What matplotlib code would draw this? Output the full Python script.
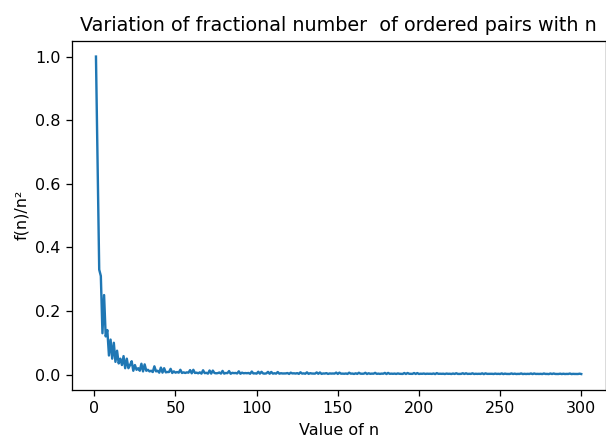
import matplotlib
matplotlib.use("Agg")
import matplotlib.pyplot as plt

# n = 1 .. 300
n_values = list(range(1, 301))

# f(n)/n^2 (n = 1..60)
ratio_1_60 = [
    1.0, 0.66, 0.33, 0.31, 0.13, 0.25, 0.12, 0.14, 0.06, 0.11,
    0.05, 0.10, 0.04, 0.075, 0.035, 0.05, 0.03, 0.058, 0.02, 0.05,
    0.02, 0.03, 0.042, 0.012, 0.03, 0.015, 0.02, 0.012, 0.034, 0.01,
    0.032, 0.012, 0.015, 0.01, 0.012, 0.008, 0.026, 0.01, 0.012, 0.006,
    0.022, 0.006, 0.02, 0.007, 0.008, 0.008, 0.018, 0.005, 0.01, 0.006,
    0.008, 0.006, 0.015, 0.005, 0.007, 0.005, 0.007, 0.006, 0.014, 0.004,
]

# f(n)/n^2 (n = 61..300, tiny values near zero)
ratio_61_300 = [
    0.0150, 0.0050, 0.0060, 0.0040, 0.0070, 0.0030, 0.0135, 0.0045, 0.0055, 0.0030,
    0.0128, 0.0030, 0.0125, 0.0050, 0.0040, 0.0045, 0.0065, 0.0030, 0.0115, 0.0030,
    0.0050, 0.0045, 0.0110, 0.0025, 0.0055, 0.0045, 0.0050, 0.0035, 0.0102, 0.0025,
    0.0060, 0.0040, 0.0048, 0.0042, 0.0050, 0.0025, 0.0095, 0.0035, 0.0040, 0.0030,
    0.0090, 0.0028, 0.0088, 0.0035, 0.0030, 0.0038, 0.0085, 0.0025, 0.0083, 0.0030,
    0.0042, 0.0030, 0.0080, 0.0028, 0.0042, 0.0034, 0.0036, 0.0036, 0.0048, 0.0020,
    0.0060, 0.0036, 0.0040, 0.0032, 0.0045, 0.0022, 0.0072, 0.0030, 0.0038, 0.0026,
    0.0070, 0.0022, 0.0044, 0.0033, 0.0030, 0.0030, 0.0067, 0.0024, 0.0066, 0.0022,
    0.0035, 0.0032, 0.0045, 0.0020, 0.0036, 0.0031, 0.0034, 0.0030, 0.0062, 0.0020,
    0.0061, 0.0028, 0.0030, 0.0026, 0.0034, 0.0021, 0.0059, 0.0029, 0.0032, 0.0020,
    0.0040, 0.0022, 0.0057, 0.0028, 0.0026, 0.0028, 0.0056, 0.0018, 0.0042, 0.0024,
    0.0030, 0.0027, 0.0054, 0.0022, 0.0030, 0.0022, 0.0030, 0.0027, 0.0052, 0.0017,
    0.0052, 0.0024, 0.0029, 0.0024, 0.0031, 0.0020, 0.0036, 0.0025, 0.0024, 0.0020,
    0.0049, 0.0018, 0.0049, 0.0025, 0.0024, 0.0022, 0.0048, 0.0019, 0.0047, 0.0019,
    0.0027, 0.0024, 0.0033, 0.0020, 0.0028, 0.0024, 0.0026, 0.0021, 0.0034, 0.0015,
    0.0045, 0.0023, 0.0026, 0.0023, 0.0027, 0.0017, 0.0032, 0.0023, 0.0026, 0.0018,
    0.0033, 0.0019, 0.0042, 0.0020, 0.0022, 0.0022, 0.0042, 0.0018, 0.0041, 0.0020,
    0.0025, 0.0021, 0.0040, 0.0018, 0.0026, 0.0021, 0.0025, 0.0020, 0.0039, 0.0014,
    0.0039, 0.0022, 0.0023, 0.0021, 0.0024, 0.0018, 0.0031, 0.0020, 0.0024, 0.0018,
    0.0037, 0.0015, 0.0030, 0.0020, 0.0021, 0.0019, 0.0036, 0.0018, 0.0029, 0.0017,
    0.0022, 0.0020, 0.0036, 0.0016, 0.0024, 0.0018, 0.0023, 0.0019, 0.0035, 0.0015,
    0.0035, 0.0019, 0.0022, 0.0019, 0.0023, 0.0016, 0.0034, 0.0019, 0.0021, 0.0015,
    0.0034, 0.0017, 0.0034, 0.0019, 0.0020, 0.0018, 0.0028, 0.0016, 0.0026, 0.0017,
    0.0021, 0.0019, 0.0033, 0.0015, 0.0022, 0.0019, 0.0020, 0.0018, 0.0028, 0.0017,
]

ratios = ratio_1_60 + ratio_61_300

title_text = "Variation of fractional number  of ordered pairs with n"
x_label = "Value of n"
y_label = "f(n)/n\u00b2"

DPI = 115
fig = plt.figure(figsize=(606 / DPI, 440 / DPI), dpi=DPI)
ax = fig.add_axes([71.7 / 606, (440 - 390) / 440, (605.5 - 71.7) / 606, (390 - 40.7) / 440])
ax.plot(n_values, ratios, color="#1f77b4")
ax.set_title(title_text)
ax.set_xlabel(x_label)
ax.set_ylabel(y_label)
fig.savefig("out.png", dpi=DPI)
